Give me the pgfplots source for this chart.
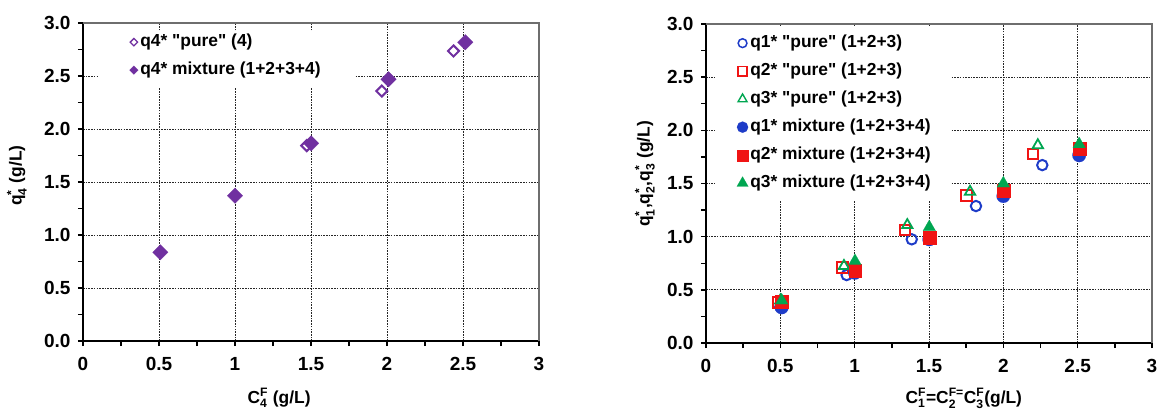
\documentclass[border=0pt]{standalone}
\usepackage{fontspec}
\setmainfont{Liberation Sans}[Ligatures=TeXOff]
\usepackage{amsmath}
\usepackage{pgfplots}
\pgfplotsset{compat=1.18}
\definecolor{cpurple}{HTML}{7030A0}
\definecolor{cblue}{RGB}{30,60,200}
\definecolor{cred}{RGB}{240,20,20}
\definecolor{cgreen}{RGB}{0,166,81}
\definecolor{cborder}{RGB}{110,110,110}
\newcommand{\lblfont}{\bfseries\fontsize{17.4bp}{20bp}\selectfont}
\newcommand{\tickfont}{\bfseries\fontsize{19bp}{21bp}\selectfont}
\pgfplotsset{
  excel/.style={
    scale only axis, anchor=south west,
    xmin=0, xmax=3, ymin=0, ymax=3,
    xtick={0,0.5,1,1.5,2,2.5,3}, ytick={0,0.5,1,1.5,2,2.5,3},
    minor tick num=1,
    axis x line*=bottom, axis y line*=left,
    axis line style={black, line width=1.5bp},
    tick align=outside, major tick length=5bp, minor tick length=5bp,
    every tick/.style={black, line width=1.4bp},
    grid=major,
    major grid style={black!85, line width=0.7bp, dash pattern=on 1.6bp off 1.1bp},
    /pgf/number format/assume math mode=true,
    tick label style={font=\tickfont},
    yticklabel style={xshift=-4bp, /pgf/number format/.cd, fixed, fixed zerofill, precision=1},
    xticklabel style={yshift=-8bp, /pgf/number format/.cd, fixed},
    label style={font=\lblfont},
    legend cell align=left,
    legend image code/.code={\draw[##1] plot coordinates {(0bp,0bp)};},
    legend style={draw=none, fill=none, font=\lblfont, anchor=north west,
      row sep=10bp, column sep=1bp,
      nodes={inner xsep=1bp, inner ysep=1bp, text height=12.5bp, text depth=3.5bp}},
    clip=false,
  },
}
\begin{document}
\begin{tikzpicture}
\useasboundingbox (0bp,0bp) rectangle (1158bp,410bp);
% ---------------- left chart ----------------
\begin{axis}[excel,
  at={(83bp,69bp)}, width=456bp, height=318bp,
  xlabel={C$_{\text{4}}^{\text{F}}$ (g/L)},
  ylabel={q$_{\text{4}}^{\text{*}}$ (g/L)},
  xlabel style={at={(axis description cs:0.43,0)}, anchor=base, yshift=-62bp},
  ylabel style={at={(axis description cs:-0.145,0.52)}, anchor=center},
  legend style={at={(axis description cs:0.095,0.975)}},
]
\fill[white] (axis cs:0.099,2.915) rectangle (axis cs:1.79,2.387);
\addlegendimage{only marks, mark=square, mark options={rotate=45, draw=cpurple, line width=1.3bp}, mark size=2.6bp}
\addlegendentry{q4* "pure" (4)}
\addlegendimage{only marks, mark=square*, mark options={rotate=45, draw=cpurple, fill=cpurple, line width=0.1bp}, mark size=3.1bp}
\addlegendentry{q4* mixture (1+2+3+4)}
\addplot[forget plot, only marks, mark=square, mark size=3.9bp, mark options={rotate=45, draw=cpurple, line width=2bp}]
  coordinates {(1.472,1.843) (1.966,2.358) (2.438,2.736)};
\addplot[forget plot, only marks, mark=square*, mark size=5.5bp, mark options={rotate=45, draw=cpurple, fill=cpurple, line width=0.1bp}]
  coordinates {(0.509,0.837) (1.0,1.371) (1.501,1.865) (2.01,2.469) (2.515,2.818)};
\draw[cborder, line width=1.3bp] (rel axis cs:0,1) -- (rel axis cs:1,1) -- (rel axis cs:1,0);
\end{axis}
% ---------------- right chart ----------------
\begin{axis}[excel,
  at={(706bp,67bp)}, width=446bp, height=319bp,
  xlabel={C$_{\text{1}}^{\text{F}}$=C$_{\text{2}}^{\text{F=}}$C$_{\text{3}}^{\text{F}}$(g/L)},
  ylabel={q$_{\text{1}}^{\text{*}}$,q$_{\text{2}}^{\text{*}}$,q$_{\text{3}}^{\text{*}}$ (g/L)},
  xlabel style={at={(axis description cs:0.578,0)}, anchor=base, yshift=-60bp},
  ylabel style={at={(axis description cs:-0.137,0.53)}, anchor=center},
  legend style={at={(axis description cs:0.062,0.975)}},
]
\fill[white] (axis cs:0.06,2.985) rectangle (axis cs:1.648,1.335);
\addlegendimage{only marks, mark=o, mark size=4.4bp, mark options={draw=cblue, line width=1.5bp}}
\addlegendentry{q1* "pure" (1+2+3)}
\addlegendimage{only marks, mark=square, mark size=4.6bp, mark options={draw=cred, line width=1.5bp}}
\addlegendentry{q2* "pure" (1+2+3)}
\addlegendimage{only marks, mark=triangle, mark size=5.2bp, mark options={draw=cgreen, line width=1.4bp}}
\addlegendentry{q3* "pure" (1+2+3)}
\addlegendimage{only marks, mark=*, mark size=5.6bp, mark options={draw=cblue, fill=cblue, line width=0.1bp}}
\addlegendentry{q1* mixture (1+2+3+4)}
\addlegendimage{only marks, mark=square*, mark size=5.6bp, mark options={draw=cred, fill=cred, line width=0.1bp}}
\addlegendentry{q2* mixture (1+2+3+4)}
\addlegendimage{only marks, mark=triangle*, mark size=6.6bp, mark options={draw=cgreen, fill=cgreen, line width=0.1bp}}
\addlegendentry{q3* mixture (1+2+3+4)}
% pure
\addplot[forget plot, only marks, mark=o, mark size=5.2bp, mark options={draw=cblue, line width=2bp}]
  coordinates {(0.50,0.34) (0.946,0.639) (1.384,0.975) (1.816,1.288) (2.262,1.673)};
\addplot[forget plot, only marks, mark=square, mark size=5.3bp, mark options={draw=cred, line width=2bp}]
  coordinates {(0.484,0.38) (0.917,0.711) (1.339,1.062) (1.753,1.385) (2.20,1.776)};
\addplot[forget plot, only marks, mark=triangle, mark size=6bp, mark options={draw=cgreen, line width=1.8bp}]
  coordinates {(0.50,0.40) (0.928,0.724) (1.354,1.109) (1.776,1.422) (2.232,1.86)};
% mixture
\addplot[forget plot, only marks, mark=*, mark size=6.8bp, mark options={draw=cblue, fill=cblue, line width=0.1bp}]
  coordinates {(0.509,0.335) (1.002,0.661) (1.502,0.975) (2.0,1.382) (2.51,1.765)};
\addplot[forget plot, only marks, mark=square*, mark size=6.4bp, mark options={draw=cred, fill=cred, line width=0.1bp}]
  coordinates {(0.509,0.388) (1.002,0.683) (1.502,0.993) (2.0,1.435) (2.51,1.825)};
\addplot[forget plot, only marks, mark=triangle*, mark size=7.3bp, mark options={draw=cgreen, fill=cgreen, line width=0.1bp}]
  coordinates {(0.509,0.40) (1.002,0.771) (1.502,1.09) (2.0,1.501) (2.51,1.87)};
\draw[cborder, line width=1.3bp] (rel axis cs:0,1) -- (rel axis cs:1,1) -- (rel axis cs:1,0);
\end{axis}
\end{tikzpicture}
\end{document}
